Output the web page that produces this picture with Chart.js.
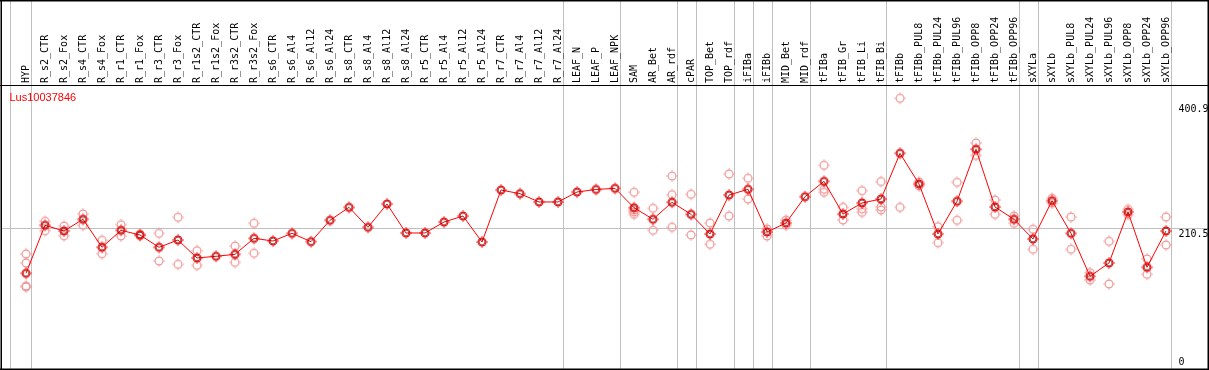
<!DOCTYPE html>
<html>
<head>
<meta charset="utf-8">
<script src="https://cdn.jsdelivr.net/npm/chart.js@4/dist/chart.umd.min.js"></script>
<style>
html,body{margin:0;padding:0;background:#fff;}
#wrap{width:1209px;height:370px;}
</style>
</head>
<body>
<div id="wrap"><canvas id="c" width="1209" height="370"></canvas></div>
<script>
const geneId = 'Lus10037846';
const categories = ['HYP','R_s2_CTR','R_s2_Fox','R_s4_CTR','R_s4_Fox','R_r1_CTR','R_r1_Fox','R_r3_CTR','R_r3_Fox','R_r1s2_CTR','R_r1s2_Fox','R_r3s2_CTR','R_r3s2_Fox','R_s6_CTR','R_s6_Al4','R_s6_Al12','R_s6_Al24','R_s8_CTR','R_s8_Al4','R_s8_Al12','R_s8_Al24','R_r5_CTR','R_r5_Al4','R_r5_Al12','R_r5_Al24','R_r7_CTR','R_r7_Al4','R_r7_Al12','R_r7_Al24','LEAF_N','LEAF_P','LEAF_NPK','SAM','AR_Bet','AR_rdf','cPAR','TOP_Bet','TOP_rdf','iFIBa','iFIBb','MID_Bet','MID_rdf','tFIBa','tFIB_Gr','tFIB_Li','tFIB_Bi','tFIBb','tFIBb_PUL8','tFIBb_PUL24','tFIBb_PUL96','tFIBb_OPP8','tFIBb_OPP24','tFIBb_OPP96','sXYLa','sXYLb','sXYLb_PUL8','sXYLb_PUL24','sXYLb_PUL96','sXYLb_OPP8','sXYLb_OPP24','sXYLb_OPP96'];
const meanValues = [143.2,215.0,206.5,224.0,182.1,207.5,200.5,182.1,193.0,166.1,168.6,171.6,195.5,191.5,203.0,190.5,222.5,241.9,212.0,246.9,203.5,203.5,219.9,228.9,190.0,267.8,262.3,249.9,249.9,264.8,268.6,270.3,241.3,224.0,249.4,231.4,202.0,260.3,268.9,205.0,218.4,257.8,280.8,231.9,248.4,254.3,322.7,276.8,202.0,250.9,328.7,242.4,224.0,194.5,251.8,203.0,138.7,158.6,234.9,152.2,206.5];
const rep1 = [172.1,221.0,213.9,231.9,192.6,215.9,202.0,203.0,227.0,177.0,null,184.0,218.0,null,null,null,null,null,null,null,null,null,null,null,null,null,null,null,null,null,null,null,264.4,240.4,288.7,261.4,218.4,291.7,285.3,209.5,222.9,null,304.8,241.9,266.8,280.5,405.0,273.8,212.9,279.3,338.1,252.8,228.9,209.0,255.4,227.4,144.1,191.1,238.9,164.6,227.4];
const rep2 = [158.6,206.9,199.4,215.0,172.5,199.0,199.0,161.6,156.6,155.1,null,159.6,173.1,null,null,null,null,null,null,null,null,null,null,null,null,null,null,null,null,null,null,null,237.9,207.5,260.8,200.5,186.6,228.9,254.3,199.0,215.0,null,268.9,222.9,239.8,242.4,241.9,279.8,189.0,222.5,319.7,231.4,218.0,179.1,248.2,179.1,133.2,127.2,230.9,141.7,185.5];
const rep3 = [124.2,null,null,null,null,null,null,null,null,null,null,null,null,null,null,null,null,null,null,null,null,null,null,null,null,null,null,null,null,null,null,null,234.9,null,212.0,null,null,null,null,null,null,null,264.4,null,234.4,237.9,null,null,null,null,null,null,null,null,null,null,null,null,null,null,null];
const rep4 = [122.7,null,null,null,null,null,null,null,null,null,null,null,null,null,null,null,null,null,null,null,null,null,null,null,null,null,null,null,null,null,null,null,231.4,null,null,null,null,null,null,null,null,null,null,null,null,null,null,null,null,null,null,null,null,null,null,null,null,null,null,null,null];
const groupEnds = [0,28,31,34,35,37,38,39,41,45,52,53,60];
const yTickValues = [400.9, 210.5, 0];
const yTickLabels = ['400.9','210.5','0'];
const gridValue = 210.5;

function makeMarker(ring, inner) {
  const s = 14, c = 7;
  const cv = document.createElement('canvas');
  cv.width = s; cv.height = s;
  const g = cv.getContext('2d');
  g.strokeStyle = ring; g.lineWidth = 1.2;
  g.beginPath(); g.arc(c, c, 3.9, 0, Math.PI * 2); g.stroke();
  if (inner) {
    g.strokeStyle = inner; g.lineWidth = 0.7;
    g.beginPath(); g.arc(c, c, 2.9, 0, Math.PI * 2); g.stroke();
  }
  g.fillStyle = ring;
  g.fillRect(c - 0.5, c - 5.8, 1, 1.4);
  g.fillRect(c - 0.5, c + 4.4, 1, 1.4);
  g.fillRect(c - 5.8, c - 0.5, 1.4, 1);
  g.fillRect(c + 4.4, c - 0.5, 1.4, 1);
  return cv;
}
const meanMarker = makeMarker('#ff0000', '#600000');
const repMarker = makeMarker('rgb(240,150,150)', null);

const meanData = meanValues.map((v, i) => ({x: i, y: v}));
const repData = [];
[rep1, rep2, rep3, rep4].forEach(arr => arr.forEach((v, i) => { if (v !== null) repData.push({x: i, y: v}); }));

const decor = {
  id: 'decor',
  beforeDatasetsDraw(chart) {
    const ctx = chart.ctx, xs = chart.scales.x, ys = chart.scales.y;
    ctx.save();
    ctx.fillStyle = '#c0c0c0';
    const gy = Math.round(ys.getPixelForValue(gridValue));
    ctx.fillRect(1, gy, 1207, 1);
    const seps = [-0.84].concat(groupEnds.map(i => i + 0.24));
    seps.forEach(v => {
      const px = Math.round(xs.getPixelForValue(v));
      ctx.fillRect(px, 0, 1, 369);
    });
    ctx.restore();
  },
  afterDraw(chart) {
    const ctx = chart.ctx, xs = chart.scales.x, ys = chart.scales.y, a = chart.chartArea;
    ctx.save();
    ctx.fillStyle = '#000';
    ctx.fillRect(0, 0, 1209, 1.5);
    ctx.fillRect(0, 368.5, 1209, 1.5);
    ctx.fillRect(0.5, 0, 1.5, 370);
    ctx.fillRect(1207.5, 0, 1.5, 370);
    ctx.fillRect(0, 85, 1209, 1);
    ctx.font = '10px "DejaVu Sans Mono"';
    ctx.textAlign = 'left';
    ctx.textBaseline = 'middle';
    categories.forEach((lab, i) => {
      const px = xs.getPixelForValue(i);
      ctx.save();
      ctx.translate(px, 83);
      ctx.rotate(-Math.PI / 2);
      ctx.fillText(lab, 0, 0);
      ctx.restore();
    });
    ctx.textBaseline = 'alphabetic';
    yTickValues.forEach((v, k) => {
      const py = ys.getPixelForValue(v);
      const base = Math.min(Math.max(py + 8.4, a.top + 26.5), a.bottom - 4);
      ctx.fillText(yTickLabels[k], 1178.5, base);
    });
    ctx.fillStyle = '#ff0000';
    ctx.font = '11px "Liberation Sans"';
    ctx.fillText(geneId, 9.5, 100.7);
    ctx.restore();
  }
};

new Chart(document.getElementById('c'), {
  type: 'scatter',
  data: {
    datasets: [
      {label: 'mean', data: meanData, showLine: true, borderColor: '#ff0000', borderWidth: 1,
       pointStyle: meanMarker, pointRadius: 5, order: 0, clip: false},
      {label: 'reps', data: repData, showLine: false, pointStyle: repMarker, pointRadius: 5, order: 1, clip: false}
    ]
  },
  options: {
    responsive: false,
    animation: false,
    devicePixelRatio: 1,
    layout: {autoPadding: false, padding: {top: 85, left: 1, right: 1, bottom: 1}},
    plugins: {legend: {display: false}, tooltip: {enabled: false}},
    scales: {
      x: {type: 'linear', display: false, min: -1.3158, max: 62.2105},
      y: {type: 'linear', display: false, min: 0, max: 424.9}
    }
  },
  plugins: [decor]
});
</script>
</body>
</html>
